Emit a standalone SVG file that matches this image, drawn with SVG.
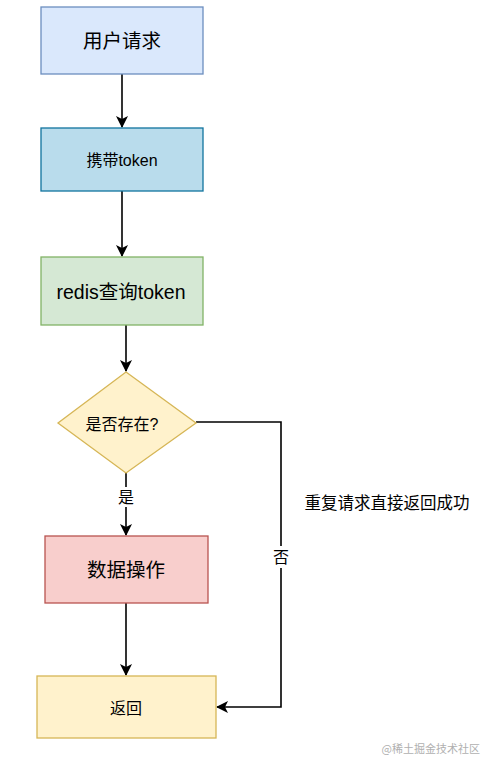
<svg xmlns="http://www.w3.org/2000/svg" width="484" height="757" viewBox="0 0 484 757">
<defs>
<style>
.t{font-family:"Liberation Sans","Noto Sans CJK SC",sans-serif;fill:#000;text-anchor:middle;dominant-baseline:central}
.e{fill:none;stroke:#000;stroke-width:1.6}
</style>
<marker id="ah" markerWidth="12" markerHeight="12" refX="11" refY="6" orient="auto" markerUnits="userSpaceOnUse">
<path d="M0,0 L12,6 L0,12 L3,6 Z" fill="#000"/>
</marker>
</defs>
<rect width="484" height="757" fill="#fff"/>
<g id="connectors">
<line class="e" x1="122" y1="74" x2="122" y2="127" marker-end="url(#ah)"/>
<line class="e" x1="122" y1="191" x2="122" y2="256" marker-end="url(#ah)"/>
<line class="e" x1="126" y1="325" x2="126" y2="371" marker-end="url(#ah)"/>
<line class="e" x1="126" y1="473" x2="126" y2="535" marker-end="url(#ah)"/>
<line class="e" x1="126" y1="603" x2="126" y2="675" marker-end="url(#ah)"/>
<polyline class="e" points="196,422 281,422 281,707 217,707" marker-end="url(#ah)"/>
<rect x="117" y="487" width="18" height="20" fill="#fff"/>
<text class="t" x="126" y="497" font-size="16">是</text>
<rect x="271" y="546" width="20" height="22" fill="#fff"/>
<text class="t" x="281" y="557" font-size="16">否</text>
<text class="t" x="387" y="503" font-size="16.5">重复请求直接返回成功</text>
</g>
<g id="n1">
<rect x="41" y="7" width="162" height="67" fill="#dae8fc" stroke="#6c8ebf" stroke-width="1.3"/>
<text class="t" x="122" y="41" font-size="19.5">用户请求</text>
</g>
<g id="n2">
<rect x="41" y="128" width="162" height="63" fill="#b9dcec" stroke="#10739e" stroke-width="1.3"/>
<text class="t" x="122" y="160" font-size="16">携带token</text>
</g>
<g id="n3">
<rect x="41" y="257" width="162" height="68" fill="#d5e8d4" stroke="#82b366" stroke-width="1.3"/>
<text class="t" x="121" y="292" font-size="19.5">redis查询token</text>
</g>
<g id="n4">
<polygon points="126,372 196,423 126,473 58,423" fill="#fff2cc" stroke="#d6b656" stroke-width="1.3"/>
<text class="t" x="122" y="424" font-size="16">是否存在?</text>
</g>
<g id="n5">
<rect x="45" y="536" width="163" height="67" fill="#f8cecc" stroke="#b85450" stroke-width="1.3"/>
<text class="t" x="126" y="570" font-size="19.5">数据操作</text>
</g>
<g id="n6">
<rect x="37" y="676" width="179" height="62" fill="#fff2cc" stroke="#d6b656" stroke-width="1.3"/>
<text class="t" x="126" y="708" font-size="16">返回</text>
</g>
<text x="480" y="748" font-size="11" fill="#b0b0b0" text-anchor="end" dominant-baseline="central" font-family="'Noto Sans CJK SC',sans-serif">@稀土掘金技术社区</text>
</svg>
